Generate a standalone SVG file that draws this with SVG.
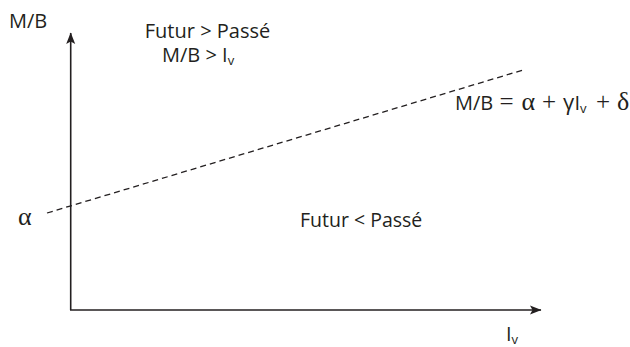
<svg xmlns="http://www.w3.org/2000/svg" width="630" height="347" viewBox="0 0 630 347">
<style>
text{font-family:"Open Sans","Liberation Sans",sans-serif;font-size:20px;fill:#231f20}
.gr{font-family:"Liberation Serif","DejaVu Serif",serif;font-size:26px}
.op{font-family:"Liberation Serif","DejaVu Serif",serif;font-size:25px}
.ax{stroke:#231f20;stroke-width:1.6;fill:none}
.dash{stroke:#231f20;stroke-width:1.3;stroke-dasharray:6,4;fill:none}
.sub{font-size:13px}
</style>
<defs>
<marker id="ah" markerWidth="12" markerHeight="10" refX="11" refY="5" orient="auto" markerUnits="userSpaceOnUse">
<path d="M0,0.5 L11.5,5 L0,9.5 L2.5,5 Z" fill="#231f20"/>
</marker>
</defs>
<g id="connectors">
<path class="ax" d="M70.7,310 L70.7,33" marker-end="url(#ah)"/>
<path class="ax" d="M70,310 L541,310" marker-end="url(#ah)"/>
<path class="dash" d="M47,213 L523,70"/>
</g>
<g id="y-label"><text x="9" y="28">M/B</text></g>
<g id="upper-region">
<text x="207.5" y="38" text-anchor="middle">Futur &gt; Passé</text>
<text x="162" y="62">M/B &gt; I<tspan class="sub" dy="3">v</tspan></text>
</g>
<g id="equation">
<text x="455" y="110">M/B</text>
<text class="op" x="499.5" y="110">=</text>
<text class="gr" x="521.5" y="110">α</text>
<text class="op" x="542" y="110">+</text>
<text x="563" y="110" style="font-size:22px">γ</text>
<text x="574.5" y="110">I<tspan class="sub" dy="3">v</tspan></text>
<text class="op" x="596" y="110">+</text>
<text class="gr" x="617" y="110">δ</text>
</g>
<g id="alpha"><text class="gr" x="18" y="225">α</text></g>
<g id="lower-region"><text x="300" y="227" style="font-size:19.5px">Futur &lt; Passé</text></g>
<g id="x-label"><text x="506" y="341">I<tspan class="sub" dy="3">v</tspan></text></g>
</svg>
